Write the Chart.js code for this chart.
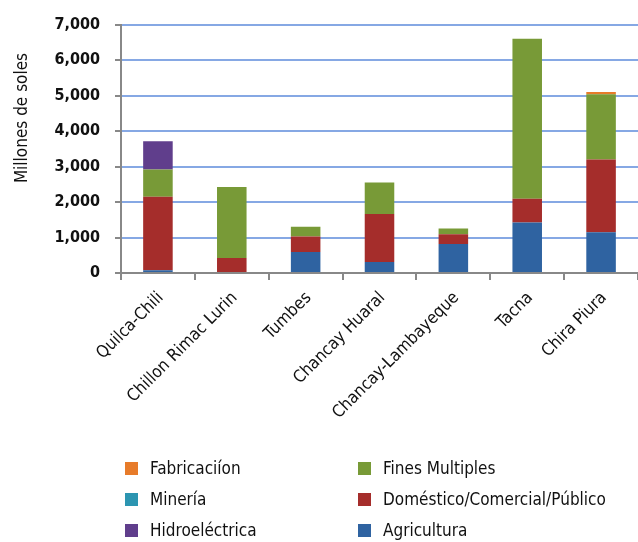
<!DOCTYPE html>
<html>
<head>
<meta charset="utf-8">
<script src="https://cdn.jsdelivr.net/npm/chart.js@4/dist/chart.umd.min.js"></script>
<style>
  body { margin: 0; background: #fff; font-family: 'DejaVu Sans Condensed', 'DejaVu Sans', sans-serif; }
  #wrap { position: relative; width: 638px; height: 542px; overflow: hidden; }
  #chart { position: absolute; left: 0; top: 0; }
  #legend { position: absolute; left: 125px; top: 456px; display: grid; grid-template-columns: 233px 260px; row-gap: 7px; }
  .item { display: flex; align-items: center; font-size: 17px; color: #111; height: 24px; white-space: nowrap; }
  .box { width: 13px; height: 13px; margin-right: 12px; flex: none; }
</style>
</head>
<body>
<div id="wrap">
  <canvas id="chart" width="638" height="542"></canvas>
  <div id="legend"></div>
</div>
<script>
// datos
const categories = ["Quilca-Chili", "Chillon Rimac Lurin", "Tumbes", "Chancay Huaral", "Chancay-Lambayeque", "Tacna", "Chira Piura"];
const agricultura    = [80, 0, 590, 310, 815, 1420, 1150];
const domestico      = [2070, 420, 440, 1350, 280, 670, 2050];
const finesMultiples = [770, 2000, 270, 890, 160, 4510, 1840];
const hidroelectrica = [790, 0, 0, 0, 0, 0, 0];
const mineria        = [0, 0, 0, 0, 0, 0, 0];
const fabricacion    = [0, 0, 0, 0, 0, 0, 60];
const yTicks = [0, 1000, 2000, 3000, 4000, 5000, 6000, 7000];
const yTitle = "Millones de soles";

const FONT = "'DejaVu Sans Condensed', 'DejaVu Sans', sans-serif";

const datasets = [
  { label: "Agricultura", data: agricultura, backgroundColor: "#2F63A1" },
  { label: "Doméstico/Comercial/Público", data: domestico, backgroundColor: "#A52D2B" },
  { label: "Fines Multiples", data: finesMultiples, backgroundColor: "#789A37" },
  { label: "Hidroeléctrica", data: hidroelectrica, backgroundColor: "#603E8C" },
  { label: "Minería", data: mineria, backgroundColor: "#2C95B1" },
  { label: "Fabricaciíon", data: fabricacion, backgroundColor: "#E77B2A" }
].map(d => ({ ...d, barPercentage: 0.4, categoryPercentage: 1, borderWidth: 0 }));

// titulo del eje y
const yTitlePlugin = {
  id: "yTitle",
  afterDraw(chart) {
    const ctx = chart.ctx;
    ctx.save();
    ctx.translate(23, 118);
    ctx.rotate(-Math.PI / 2);
    ctx.font = "17px " + FONT;
    ctx.fillStyle = "#111";
    ctx.textAlign = "center";
    ctx.textBaseline = "middle";
    ctx.fillText(yTitle, 0, 0);
    ctx.restore();
  }
};

const chart = new Chart(document.getElementById("chart"), {
  type: "bar",
  data: { labels: categories, datasets },
  plugins: [yTitlePlugin],
  options: {
    responsive: false,
    animation: false,
    layout: { padding: { top: 24, left: 0, right: 0, bottom: 0 } },
    plugins: { legend: { display: false }, tooltip: { enabled: false } },
    scales: {
      x: {
        stacked: true,
        grid: { offset: true, drawOnChartArea: false, drawTicks: true, tickLength: 7, color: "#888", lineWidth: 2 },
        border: { color: "#888", width: 2 },
        ticks: { minRotation: 45, maxRotation: 45, color: "#111", padding: 8, labelOffset: 3, font: { family: FONT, size: 17 } },
        afterFit: s => { s.height = 542 - 273; }
      },
      y: {
        stacked: true,
        min: 0,
        max: 7000,
        afterBuildTicks: s => { s.ticks = yTicks.map(v => ({ value: v })); },
        ticks: {
          color: "#111",
          padding: 15,
          font: { family: FONT, size: 16, weight: "bold" },
          callback: v => v.toLocaleString("en-US")
        },
        grid: {
          color: c => (c.tick && c.tick.value === 0 ? "#888" : "#86A8E4"),
          lineWidth: 2,
          tickColor: "#888",
          tickLength: 6
        },
        border: { color: "#888", width: 2 },
        afterFit: s => { s.width = 121; }
      }
    }
  }
});

// leyenda en columnas
const order = ["Fabricaciíon", "Fines Multiples", "Minería", "Doméstico/Comercial/Público", "Hidroeléctrica", "Agricultura"];
const legend = document.getElementById("legend");
order.forEach(name => {
  const ds = chart.data.datasets.find(d => d.label === name);
  const el = document.createElement("div");
  el.className = "item";
  el.innerHTML = '<span class="box" style="background:' + ds.backgroundColor + '"></span>' + ds.label;
  legend.appendChild(el);
});
</script>
</body>
</html>
